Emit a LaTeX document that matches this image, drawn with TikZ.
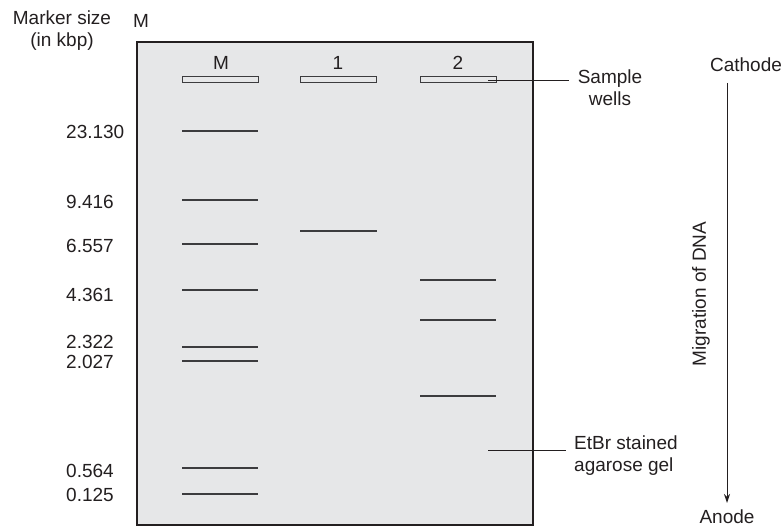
\documentclass[tikz,border=0pt]{standalone}
\usepackage{fontspec}
\setmainfont{Liberation Sans}
\usetikzlibrary{arrows.meta}
\definecolor{ink}{HTML}{231F20}
\definecolor{gelfill}{HTML}{E6E7E8}
\definecolor{bandc}{HTML}{3C3C3E}
\tikzset{
  txt/.style={inner sep=0pt, text=ink, font=\fontsize{19}{22}\selectfont},
  wellbox/.style={draw=bandc, fill=gelfill, line width=1pt, minimum width=76pt, minimum height=6pt, inner sep=0pt},
  band/.style={draw=bandc, line width=1.8pt},
  leader/.style={draw=ink, line width=1pt},
}
\begin{document}
\begin{tikzpicture}[x=1pt,y=-1pt]
\useasboundingbox (0,0) rectangle (783,529);
% gel
\draw[fill=gelfill, draw=ink, line width=1.3pt] (137,42) rectangle (533,525);
% header texts
\node[txt, align=center] (mk) at (62,31) {Marker size\\(in kbp)};
\node[txt] (mtop) at (141,21) {M};
% lane labels
\node[txt] (lM) at (221,63) {M};
\node[txt] (l1) at (338,63) {1};
\node[txt] (l2) at (458,63) {2};
% wells
\node[wellbox] (wM) at (220,80) {};
\node[wellbox] (w1) at (338.5,80) {};
\node[wellbox] (w2) at (458,80) {};
% marker bands
\foreach \y/\n in {131/a,200/b,244/c,290/d,347/e,361/f,468/g,494/h}{
  \coordinate (mL\n) at (182,\y); \coordinate (mR\n) at (258,\y);
  \draw[band] (mL\n) -- (mR\n);
}
% lane 1
\coordinate (b1L) at (300,231); \coordinate (b1R) at (377,231);
\draw[band] (b1L) -- (b1R);
% lane 2
\foreach \y/\n in {280/a,320/b,396/c}{
  \coordinate (b2L\n) at (420,\y); \coordinate (b2R\n) at (496,\y);
  \draw[band] (b2L\n) -- (b2R\n);
}
% size labels
\foreach \y/\t/\n in {132/23.130/a,202/9.416/b,246/6.557/c,295/4.361/d,342/2.322/e,362/2.027/f,471/0.564/g,495/0.125/h}{
  \node[txt, anchor=west] (s\n) at (66,\y) {\t};
}
% sample wells
\node[txt, align=center] (sw) at (610,88) {Sample\\wells};
\coordinate (swS) at (488,81);
\draw[leader] (swS) -- (569,81);
% EtBr
\node[txt, align=left, anchor=west] (et) at (574,456) {EtBr stained\\agarose gel};
\coordinate (etS) at (488,450);
\draw[leader] (etS) -- (566,450);
% cathode / anode
\node[txt] (cath) at (746,65) {Cathode};
\node[txt] (an) at (727,517) {Anode};
\coordinate (arS) at (727,83);
\coordinate (arE) at (727,503);
\draw[draw=ink, line width=1pt, -{Stealth[length=9pt,width=6pt]}] (arS) -- (arE);
\node[txt, rotate=90] (mig) at (701,294) {Migration of DNA};
\end{tikzpicture}
\end{document}
